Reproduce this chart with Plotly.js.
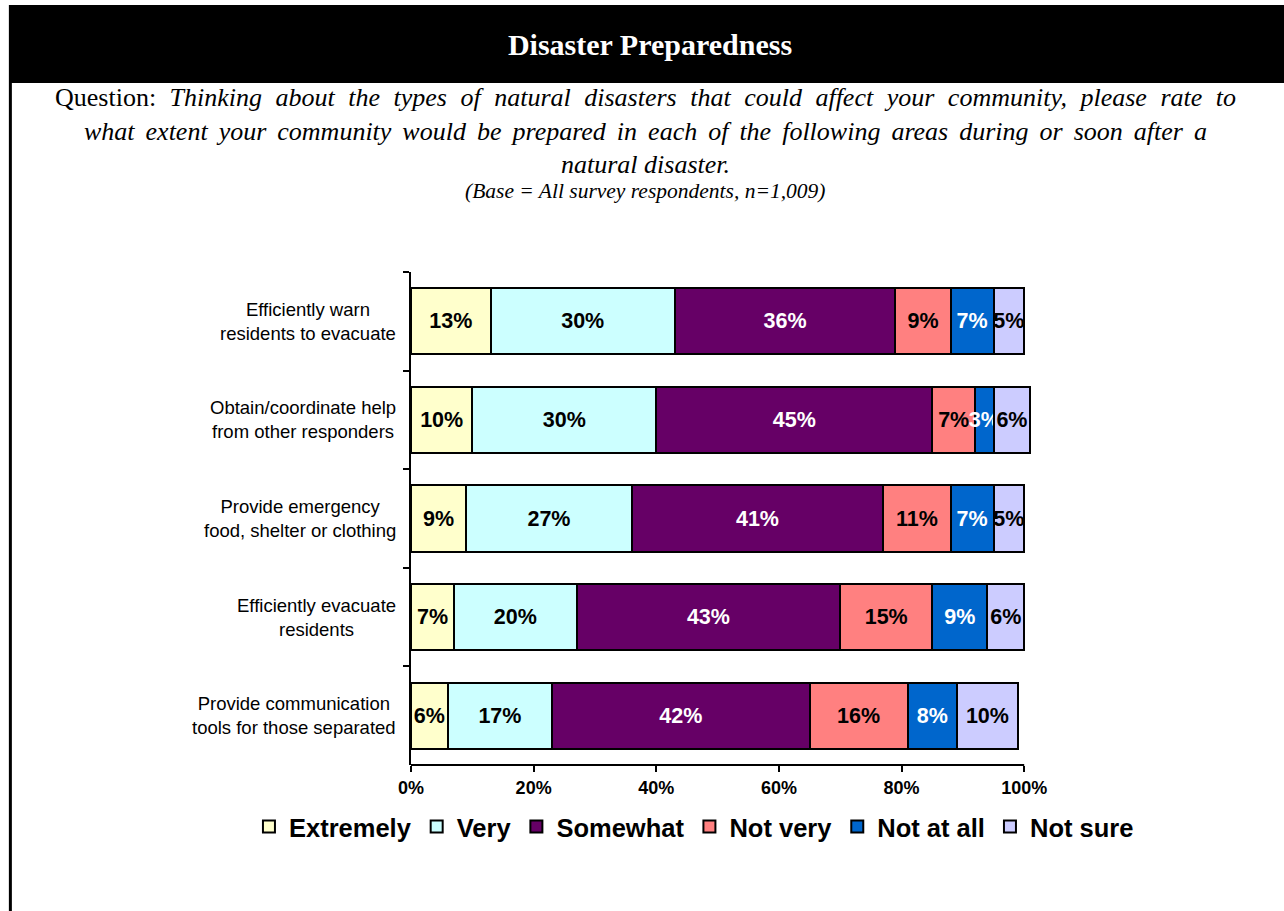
<!DOCTYPE html>
<html>
<head>
<meta charset="utf-8">
<script src="https://cdn.plot.ly/plotly-3.0.1.min.js"></script>
<style>html,body{margin:0;padding:0;background:#fff;}#chart{width:1284px;height:911px;}</style>
</head>
<body>
<div id="chart"></div>
<script>
// ---- data ----
const categories = [
  "Efficiently warn<br>residents to evacuate",
  "Obtain/coordinate help<br>from other responders",
  "Provide emergency<br>food, shelter or clothing",
  "Efficiently evacuate<br>residents",
  "Provide communication<br>tools for those separated"
];
const seriesNames = ["Extremely", "Very", "Somewhat", "Not very", "Not at all", "Not sure"];
const extremely = [13, 10, 9, 7, 6];
const very      = [30, 30, 27, 20, 17];
const somewhat  = [36, 45, 41, 43, 42];
const notVery   = [9, 7, 11, 15, 16];
const notAtAll  = [7, 3, 7, 9, 8];
const notSure   = [5, 6, 5, 6, 10];
const xTicks = [0, 20, 40, 60, 80, 100];

const seriesValues = [extremely, very, somewhat, notVery, notAtAll, notSure];
const colors = ["#FFFFCC", "#CCFFFF", "#660066", "#FF8080", "#0066CC", "#CCCCFF"];
const labelColors = ["#000000", "#000000", "#FFFFFF", "#000000", "#FFFFFF", "#000000"];

// ---- geometry helpers (page px -> paper) ----
const W = 1284, H = 911;
const X0 = 411, X100 = 1024;              // pixel of 0% and 100%
const XMAX = 101.6;                       // a little room for bars summing over 100
const pxPerUnit = (X100 - X0) / 100;
const right = X0 + XMAX * pxPerUnit;
const M = {l: X0, r: W - right, t: 272, b: 146};
const PW = W - M.l - M.r, PH = H - M.t - M.b;
const px = x => (x - M.l) / PW;
const py = y => (H - M.b - y) / PH;

const traces = seriesNames.map((name, i) => ({
  type: "bar",
  orientation: "h",
  name: name,
  y: categories,
  x: seriesValues[i],
  text: seriesValues[i].map(v => v + "%"),
  texttemplate: "%{text}",
  textposition: "inside",
  insidetextanchor: "middle",
  textangle: 0,
  constraintext: "none",
  cliponaxis: false,
  marker: {color: colors[i], line: {color: "#000000", width: 2}},
  textfont: {family: "Arial, Liberation Sans, sans-serif", size: 21.5, weight: 700, color: labelColors[i]},
  hoverinfo: "skip"
}));

const annotations = [];
categories.forEach(c => annotations.push({
  xref: "paper", yref: "y", x: 0, y: c, xanchor: "right", yanchor: "middle",
  xshift: -13, text: c, showarrow: false, align: "center",
  font: {family: "Arial, Liberation Sans, sans-serif", size: 18.5, color: "#000000"}
}));

const serif = "Times New Roman, Liberation Serif, serif";
const qLines = [
  {t: "<span style=\"word-spacing:7px\">Question: <i>Thinking about the types of natural disasters that could affect your community, please rate to</i></span>", y: 97, s: 26},
  {t: "<span style=\"word-spacing:4.5px\"><i>what extent your community would be prepared in each of the following areas during or soon after a</i></span>", y: 131, s: 26},
  {t: "<i>natural disaster.</i>", y: 164, s: 26},
  {t: "<i>(Base = All survey respondents, n=1,009)</i>", y: 191, s: 21.5}
];
qLines.forEach(l => annotations.push({
  xref: "paper", yref: "paper", x: px(645), y: py(l.y), xanchor: "center", yanchor: "middle",
  text: l.t, showarrow: false, font: {family: serif, size: l.s, color: "#000000"}
}));

const layout = {
  width: W, height: H,
  margin: M,
  paper_bgcolor: "#FFFFFF", plot_bgcolor: "#FFFFFF",
  barmode: "stack",
  bargap: 0.33,
  showlegend: true,
  title: {
    text: "<b>Disaster Preparedness</b>",
    font: {family: serif, size: 30, color: "#FFFFFF"},
    x: 650 / W, xanchor: "center", xref: "container",
    y: 1 - 44 / H, yanchor: "middle", yref: "container"
  },
  xaxis: {
    range: [0, XMAX], tickvals: xTicks, ticktext: xTicks.map(v => v + "%"),
    ticks: "outside", ticklen: 6, tickwidth: 2, tickcolor: "#000000",
    showline: false, showgrid: false, zeroline: false,
    tickfont: {family: "Arial, Liberation Sans, sans-serif", size: 18, weight: 700, color: "#000000"},
    fixedrange: true
  },
  yaxis: {
    type: "category", autorange: "reversed",
    showticklabels: false, ticks: "outside", tickson: "boundaries", ticklen: 6, tickwidth: 2, tickcolor: "#000000",
    showline: true, linecolor: "#000000", linewidth: 2, showgrid: false, zeroline: false,
    fixedrange: true
  },
  legend: {
    orientation: "h", xref: "paper", x: px(249), xanchor: "left",
    yref: "paper", y: py(827), yanchor: "middle",
    font: {family: "Arial, Liberation Sans, sans-serif", size: 25.5, weight: 700, color: "#000000"},
    itemwidth: 30, traceorder: "normal", bgcolor: "rgba(0,0,0,0)"
  },
  shapes: [
    {type: "rect", xref: "paper", yref: "paper", x0: px(9), x1: px(1284), y0: py(83), y1: py(5),
     fillcolor: "#000000", line: {width: 0}, layer: "below"},
    {type: "line", xref: "paper", yref: "paper", x0: px(10.5), x1: px(10.5), y0: py(911), y1: py(83),
     line: {color: "#000000", width: 3}},
    {type: "line", xref: "x", yref: "paper", x0: xTicks[0], x1: xTicks[xTicks.length - 1], y0: 0, y1: 0,
     line: {color: "#000000", width: 2}}
  ],
  annotations: annotations
};

Plotly.newPlot("chart", traces, layout, {displayModeBar: false, staticPlot: true});
</script>
</body>
</html>
